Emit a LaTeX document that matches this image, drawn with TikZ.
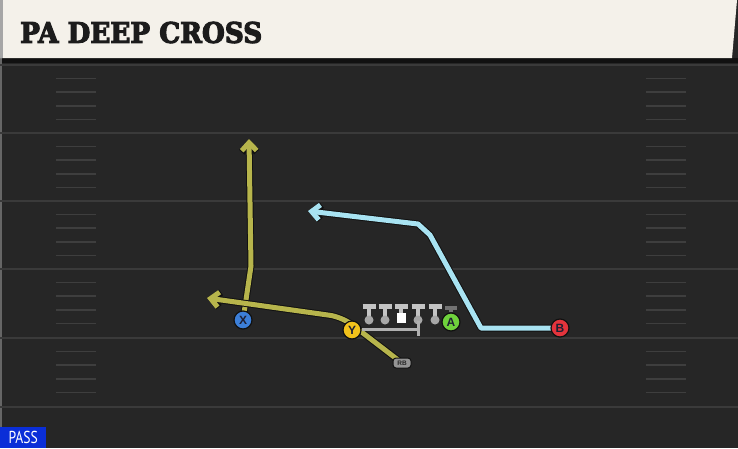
\documentclass[tikz,border=0pt]{standalone}
\usepackage{fontspec}
\setmainfont{Liberation Sans}
\newfontfamily\titlefont{DejaVu Serif}[BoldFeatures={FakeBold=4}]
\newfontfamily\passfont{PT Sans}
\usetikzlibrary{arrows.meta}
\pgfdeclarelayer{fieldlayer}
\pgfdeclarelayer{routelayer}
\pgfsetlayers{fieldlayer,routelayer,main}
\definecolor{fieldc}{HTML}{262626}
\definecolor{yardc}{HTML}{3A3A3A}
\definecolor{hashc}{HTML}{3E3E3E}
\definecolor{hdrc}{HTML}{F4F1EA}
\definecolor{titlec}{HTML}{1C1C1C}
\definecolor{routeyc}{HTML}{B7B54C}
\definecolor{routebc}{HTML}{A8E3F2}
\definecolor{edgec}{HTML}{111111}
\definecolor{xblue}{HTML}{3C7FD8}
\definecolor{yyellow}{HTML}{F2C21B}
\definecolor{agreen}{HTML}{6FD23C}
\definecolor{bred}{HTML}{E3343C}
\definecolor{passblue}{HTML}{0A2ED8}
\definecolor{olc}{HTML}{C4C4C4}
\definecolor{lettc}{HTML}{1D1F33}
\tikzset{
  yardline/.style={draw=yardc, line width=2pt},
  hashmark/.style={draw=hashc, line width=1.5pt},
  routeedge/.style={draw=edgec, line width=7pt, line join=round, -{Straight Barb[length=8pt,width=15pt]}},
  routey/.style={draw=routeyc, line width=5pt, line join=round, -{Straight Barb[length=8pt,width=15pt]}},
  routeb/.style={draw=routebc, line width=5pt, line join=round, -{Straight Barb[length=8pt,width=15pt]}},
  player/.style={circle, minimum size=18pt, inner sep=0pt, draw=edgec, line width=1.2pt,
    text=lettc, font=\bfseries\fontsize{12}{12}\selectfont},
  rbbox/.style={rounded corners=3pt, fill=black!42, draw=edgec, line width=1pt,
    minimum width=18pt, minimum height=10pt, inner sep=0pt, text=black!85,
    font=\bfseries\fontsize{6.5}{6.5}\selectfont},
  olcirc/.style={circle, fill=olc!85!black, minimum size=9pt, inner sep=0pt},
  olstem/.style={draw=olc, line width=3.5pt},
  olbar/.style={draw=olc, line width=5pt},
  ballsq/.style={fill=white, minimum width=9pt, minimum height=10pt, inner sep=0pt},
  blockbar/.style={draw=olc!90!black, line width=3pt},
  ablock/.style={draw=black!55, line width=3.5pt},
}
\begin{document}
\begin{tikzpicture}[x=1pt,y=-1pt]
\useasboundingbox (0,0) rectangle (738,448);
\begin{pgfonlayer}{fieldlayer}
\fill[fieldc] (0,0) rectangle (738,448);
\fill[black!55!fieldc] (0,58) rectangle (738,63);
\fill[black!60] (0,0) rectangle (2,448);
\foreach \yy in {65,133,201,269,338,407} {
  \draw[yardline] (0,\yy) -- (738,\yy);
}
\foreach \yy in {65,133,201,269,338} {
  \foreach \k in {1,2,3,4} {
    \draw[hashmark] (56,\yy+13.6*\k) -- (96,\yy+13.6*\k);
    \draw[hashmark] (646,\yy+13.6*\k) -- (686,\yy+13.6*\k);
  }
}
\fill[hdrc] (0,0) -- (737,0) -- (732,58) -- (0,58) -- cycle;
\fill[black!35] (0,0) rectangle (3,58);
\end{pgfonlayer}

\node[anchor=west, text=titlec, inner sep=0pt] (title) at (20,32.5)
  {\resizebox{242pt}{21pt}{\titlefont\bfseries PA DEEP CROSS}};

% players
\node[player, fill=xblue] (X) at (243,320) {X};
\node[player, fill=yyellow] (Y) at (352,330) {Y};
\node[player, fill=agreen] (A) at (451,322) {A};
\node[player, fill=bred] (B) at (560,328) {B};
\node[rbbox] (RB) at (402,363) {RB};

% route waypoints
\coordinate (x1) at (251,266);
\coordinate (x2) at (249,139);
\coordinate (y1) at (342,317);
\coordinate (y2) at (207,298);
\coordinate (b1) at (481,328);
\coordinate (b2) at (430,235);
\coordinate (b3) at (418,224);
\coordinate (b4) at (308,211);

\begin{pgfonlayer}{routelayer}
\draw[routeedge] (X.center) -- (x1) -- (x2);
\draw[routey] (X.center) -- (x1) -- (x2);
\draw[routeedge, rounded corners=12pt] (RB.center) -- (y1) -- (y2);
\draw[routey, rounded corners=12pt] (RB.center) -- (y1) -- (y2);
\draw[routeedge] (B.center) -- (b1) -- (b2) -- (b3) -- (b4);
\draw[routeb] (B.center) -- (b1) -- (b2) -- (b3) -- (b4);
\end{pgfonlayer}

% offensive line
\foreach \xx/\i in {369/1,385/2,418/4,435/5} {
  \coordinate (olt\i) at (\xx,306.5);
  \draw[olstem] (\xx,320) -- (olt\i);
  \draw[olbar] ([xshift=-6.5pt]olt\i) -- ([xshift=6.5pt]olt\i);
  \node[olcirc] (ol\i) at (\xx,320) {};
}
\coordinate (olt3) at (401,306.5);
\draw[olstem] (401,318) -- (olt3);
\draw[olbar] ([xshift=-6.5pt]olt3) -- ([xshift=6.5pt]olt3);
\node[ballsq] (ol3) at (401,317.5) {};

% block line behind the line
\coordinate (bb1) at (362,329);
\coordinate (bb2) at (418,329);
\draw[blockbar] (bb1) -- (bb2);
\draw[blockbar] ([yshift=8pt]bb2) -- ([yshift=-7pt]bb2);

% A block
\coordinate (at) at (451,308);
\draw[ablock] (A.north) -- (at);
\draw[ablock] ([xshift=-6pt]at) -- ([xshift=6pt]at);

% PASS tag
\node[fill=passblue, anchor=south west, minimum width=46pt, minimum height=21pt,
  inner sep=0pt, text=white] (pass) at (0,448)
  {\scalebox{0.85}[1.08]{\passfont\fontsize{16}{16}\selectfont PASS}};
\end{tikzpicture}
\end{document}
